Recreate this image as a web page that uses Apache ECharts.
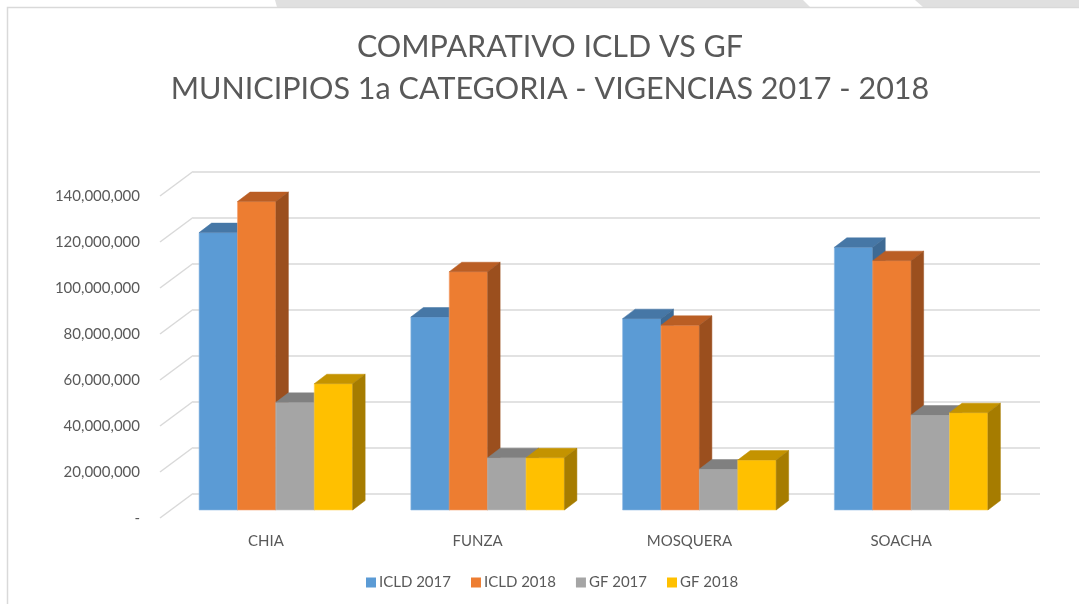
<!DOCTYPE html>
<html>
<head>
<meta charset="utf-8">
<script src="https://cdn.jsdelivr.net/npm/echarts@6/dist/echarts.min.js"></script>
<style>
  html, body { margin: 0; padding: 0; background: #ffffff; }
  #chart { width: 1079px; height: 604px; }
</style>
</head>
<body>
<div id="chart"></div>
<script>
// Municipalities and yearly values (pesos)
const categories = ['CHIA', 'FUNZA', 'MOSQUERA', 'SOACHA'];
const seriesNames = ['ICLD 2017', 'ICLD 2018', 'GF 2017', 'GF 2018'];
const icld2017 = [120600000, 83900000, 83200000, 114200000];
const icld2018 = [134100000, 103600000, 80300000, 108400000];
const gf2017 = [46800000, 22700000, 17800000, 41300000];
const gf2018 = [54900000, 22700000, 21700000, 42300000];
const yTicks = [0, 20000000, 40000000, 60000000, 80000000, 100000000, 120000000, 140000000];
const titleLines = ['COMPARATIVO ICLD VS GF', 'MUNICIPIOS 1a CATEGORIA - VIGENCIAS 2017 - 2018'];

const seriesValues = [icld2017, icld2018, gf2017, gf2018];

// Face shades for each series: front, top, side
const palettes = [
  { front: '#5B9BD5', top: '#4677A6', side: '#3E6A94', edge: '#8DB8E2' },
  { front: '#ED7D31', top: '#BA5E24', side: '#9B4F1E', edge: '#F3A373' },
  { front: '#A5A5A5', top: '#808080', side: '#737373', edge: '#C4C4C4' },
  { front: '#FFC000', top: '#C49300', side: '#A67C00', edge: '#FFD457' }
];

// Pseudo-3D geometry (pixels)
const WALL_DX = 33, WALL_DY = -24.5;     // floor depth from front plane to back wall
const FRONT_DX = 10, FRONT_DY = -8;      // bar front face offset from front plane
const DEPTH_DX = 12.5, DEPTH_DY = -9.5;  // bar depth
const BAR_RATIO = 0.1813;                // bar width relative to category band

const FONT = 'Lato, "Open Sans", sans-serif';
const TEXT_COLOR = '#595959';
const GRID_COLOR = '#D9D9D9';

function barRenderer(k, pal) {
  return function (params, api) {
    const i = api.value(0);
    const v = api.value(1);
    const base = api.coord([i, 0]);
    const top = api.coord([i, v]);
    const band = api.size([1, 0])[0];
    const bw = band * BAR_RATIO;
    const x0 = base[0] - 2 * bw + k * bw + FRONT_DX;
    const x1 = x0 + bw;
    const yb = base[1] + FRONT_DY;
    const yt = top[1] + FRONT_DY;
    return {
      type: 'group',
      children: [
        {
          type: 'rect',
          shape: { x: x0, y: yt, width: bw, height: yb - yt },
          style: { fill: pal.front, stroke: pal.edge, lineWidth: 0.6 }
        },
        {
          type: 'polygon',
          shape: { points: [[x0, yt], [x1, yt], [x1 + DEPTH_DX, yt + DEPTH_DY], [x0 + DEPTH_DX, yt + DEPTH_DY]] },
          style: { fill: pal.top, stroke: pal.top, lineWidth: 0.5 }
        },
        {
          type: 'polygon',
          shape: { points: [[x1, yt], [x1 + DEPTH_DX, yt + DEPTH_DY], [x1 + DEPTH_DX, yb + DEPTH_DY], [x1, yb]] },
          style: { fill: pal.side, stroke: pal.side, lineWidth: 0.5 }
        }
      ]
    };
  };
}

const barSeries = seriesNames.map((name, k) => ({
  name: name,
  type: 'custom',
  xAxisIndex: 0,
  yAxisIndex: 0,
  itemStyle: { color: palettes[k].front },
  renderItem: barRenderer(k, palettes[k]),
  encode: { x: 0, y: 1 },
  data: categories.map((c, i) => [i, seriesValues[k][i]]),
  z: 5
}));

// Diagonal floor/side lines joining front plane to the back wall
const sideLines = {
  name: 'side-wall',
  type: 'custom',
  xAxisIndex: 0,
  yAxisIndex: 0,
  silent: true,
  renderItem: function (params, api) {
    const p = api.coord([0, api.value(1)]);
    const x = params.coordSys.x;
    return {
      type: 'line',
      shape: { x1: x, y1: p[1], x2: x + WALL_DX, y2: p[1] + WALL_DY },
      style: { stroke: GRID_COLOR, lineWidth: 1.5 }
    };
  },
  encode: { x: 0, y: 1 },
  data: yTicks.map(v => [0, v]),
  z: 1
};

const chart = echarts.init(document.getElementById('chart'), null, { renderer: 'canvas' });

const front = { left: 160, top: 196, width: 847, height: 322 };

chart.setOption({
  animation: false,
  backgroundColor: '#ffffff',
  textStyle: { fontFamily: FONT },
  legend: {
    data: seriesNames,
    left: 361,
    top: 570,
    icon: 'rect',
    itemWidth: 10,
    itemHeight: 10,
    itemGap: 20,
    textStyle: { fontFamily: FONT, fontSize: 15, color: TEXT_COLOR, padding: [0, 0, 0, -2] }
  },
  graphic: [
    {
      type: 'polygon',
      silent: true,
      shape: { points: [[275, 0], [803, 0], [810, 7], [277, 7]] },
      style: { fill: '#E0E0E0' }
    },
    {
      type: 'polygon',
      silent: true,
      shape: { points: [[915, 0], [1079, 0], [1079, 7], [923, 7]] },
      style: { fill: '#E0E0E0' }
    },
    {
      type: 'rect',
      silent: true,
      shape: { x: 7.5, y: 7.5, width: 1200, height: 700 },
      style: { fill: 'none', stroke: '#D9D9D9', lineWidth: 1.5 }
    },
    {
      type: 'text',
      silent: true,
      x: 550,
      y: 26,
      style: {
        text: titleLines.join('\n'),
        align: 'center',
        verticalAlign: 'top',
        fontFamily: FONT,
        fontSize: 30.5,
        lineHeight: 42,
        fill: TEXT_COLOR
      }
    }
  ],
  grid: [
    { left: front.left, top: front.top, width: front.width, height: front.height },
    { left: front.left + WALL_DX, top: front.top + WALL_DY, width: front.width, height: front.height }
  ],
  xAxis: [
    {
      type: 'category',
      gridIndex: 0,
      data: categories,
      axisLine: { show: false },
      axisTick: { show: false },
      axisLabel: { fontFamily: FONT, fontSize: 15, color: TEXT_COLOR, margin: 16 }
    },
    {
      type: 'category',
      gridIndex: 1,
      data: categories,
      show: false
    }
  ],
  yAxis: [
    {
      type: 'value',
      gridIndex: 0,
      min: 0,
      max: 140000000,
      interval: 20000000,
      axisLine: { show: false },
      axisTick: { show: false },
      splitLine: { show: false },
      axisLabel: {
        fontFamily: FONT,
        fontSize: 15,
        color: TEXT_COLOR,
        margin: 20,
        formatter: v => (v === 0 ? '-' : v.toLocaleString('en-US'))
      }
    },
    {
      type: 'value',
      gridIndex: 1,
      min: 0,
      max: 140000000,
      interval: 20000000,
      axisLine: { show: false },
      axisTick: { show: false },
      axisLabel: { show: false },
      splitLine: { show: true, lineStyle: { color: GRID_COLOR, width: 1.5 } }
    }
  ],
  series: [sideLines].concat(barSeries)
});
</script>
</body>
</html>
